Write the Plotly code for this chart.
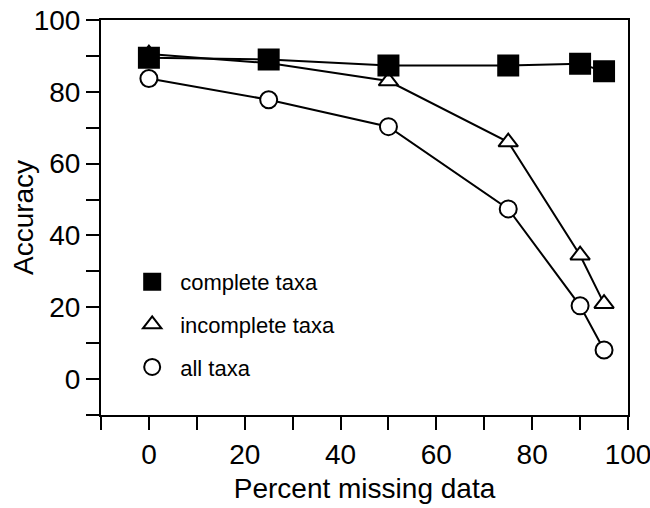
import plotly.graph_objects as go

pct_missing = [0, 25, 50, 75, 90, 95]
complete_taxa = [89.5, 89.0, 87.3, 87.3, 87.8, 85.7]
incomplete_taxa = [90.5, 88.0, 83.0, 66.0, 34.5, 21.0]
all_taxa = [83.7, 77.8, 70.3, 47.4, 20.4, 8.1]

series = [
    ("all taxa", all_taxa, "circle", "white", 17, 3),
    ("incomplete taxa", incomplete_taxa, "triangle-up", "white", 17, 2),
    ("complete taxa", complete_taxa, "square", "black", 20, 1),
]

FONT = "Liberation Sans, Arial, Helvetica, sans-serif"
fig = go.Figure()
for name, vals, sym, fill, size, rank in series:
    fig.add_trace(go.Scatter(
        x=pct_missing, y=vals, mode="lines", showlegend=False,
        line=dict(color="black", width=2), hoverinfo="skip"))
    fig.add_trace(go.Scatter(
        x=pct_missing, y=vals, mode="markers", name=name,
        legendgroup=name, legendrank=rank,
        marker=dict(symbol=sym, size=size, color=fill,
                    line=dict(color="black", width=2))))

axis_common = dict(
    showline=True, linecolor="black", linewidth=2, mirror=True,
    ticks="outside", ticklen=13, tickwidth=2, tickcolor="black",
    tickfont=dict(family=FONT, size=28, color="black"),
    showgrid=False, zeroline=False, tick0=0, dtick=20,
    automargin=False, ticklabeloverflow="allow",
    minor=dict(dtick=10, ticks="outside", ticklen=13, tickwidth=2, tickcolor="black", showgrid=False),
)

fig.update_xaxes(range=[-10, 100], **axis_common,
                 title=dict(text="Percent missing data", font=dict(family=FONT, size=28, color="black"), standoff=10))
fig.update_yaxes(range=[-10, 100], **axis_common)

fig.add_annotation(text="Accuracy", textangle=-90, xref="paper", yref="paper",
                   x=-0.147, y=0.5, showarrow=False, xanchor="center", yanchor="middle",
                   font=dict(family=FONT, size=28, color="black"))

fig.update_layout(
    template="none",
    width=650, height=508,
    margin=dict(l=101, r=22, t=20, b=93),
    plot_bgcolor="white", paper_bgcolor="white",
    legend=dict(x=0.044, y=0.39, xanchor="left", yanchor="top",
                bgcolor="rgba(0,0,0,0)", font=dict(family=FONT, size=22, color="black"),
                itemwidth=46, tracegroupgap=11),
)

fig.write_html("out.html",
               config={"displayModeBar": False},
               post_script="document.body.style.margin='0px';document.body.style.overflow='hidden';")
